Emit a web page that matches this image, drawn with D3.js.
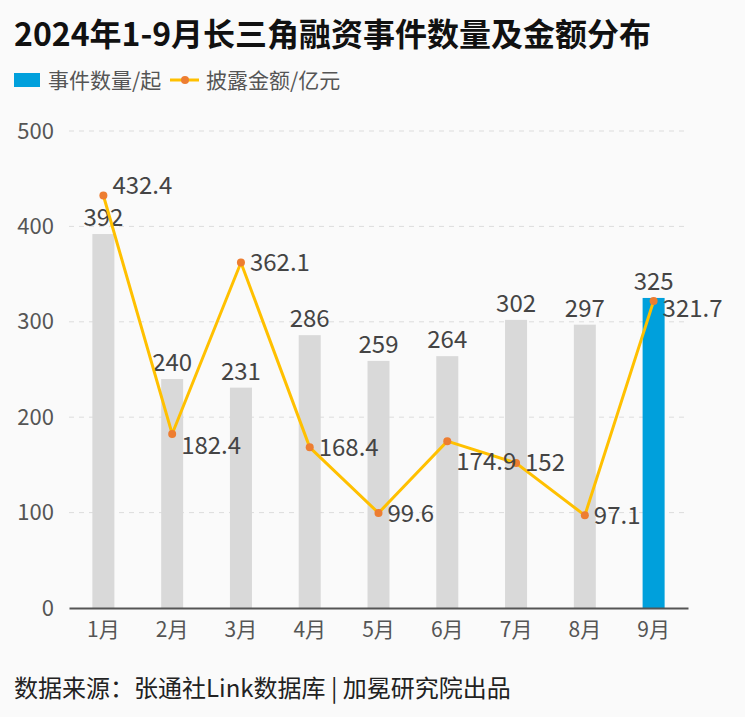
<!DOCTYPE html>
<html><head><meta charset="utf-8">
<script src="https://cdn.jsdelivr.net/npm/d3@7/dist/d3.min.js"></script>
<style>
html,body{margin:0;padding:0;background:#fafafa;}
text{font-family:"Noto Sans CJK SC","Noto Sans",sans-serif;}
</style></head>
<body>
<svg id="c" width="745" height="717"></svg>
<script>
const months = ["1月","2月","3月","4月","5月","6月","7月","8月","9月"];
const eventCounts = [392,240,231,286,259,264,302,297,325];
const amounts = [432.4,182.4,362.1,168.4,99.6,174.9,152,97.1,321.7];
const yTicks = [0,100,200,300,400,500];
const labelDy = [-10,12,0,0,1,20,0,0,8];

const svg = d3.select("#c");
svg.append("rect").attr("width",745).attr("height",717).attr("fill","#fafafa");

const m = {left:69, right:688, top:131, bottom:608};
const x = d3.scaleBand().domain(months).range([m.left,m.right]).paddingInner(0.68).paddingOuter(0.34);
const y = d3.scaleLinear().domain([0,500]).range([m.bottom,m.top]);

// title
svg.append("text").attr("x",14).attr("y",46).attr("font-size",32).attr("font-weight",700).attr("fill","#111")
  .text("2024年1-9月长三角融资事件数量及金额分布");

// legend
svg.append("rect").attr("x",14).attr("y",73).attr("width",26).attr("height",14).attr("fill","#00a0dc");
svg.append("text").attr("x",48).attr("y",88).attr("font-size",21).attr("fill","#555").text("事件数量/起");
svg.append("line").attr("x1",170).attr("x2",199).attr("y1",80).attr("y2",80).attr("stroke","#ffc000").attr("stroke-width",3);
svg.append("circle").attr("cx",185).attr("cy",80).attr("r",4).attr("fill","#ed7d31");
svg.append("text").attr("x",206).attr("y",88).attr("font-size",21).attr("fill","#555").text("披露金额/亿元");

// grid
const yAxis = d3.axisLeft(y).tickValues(yTicks).tickSize(0).tickPadding(15);
const ga = svg.append("g").attr("transform",`translate(${m.left},0)`).call(yAxis);
ga.select(".domain").remove();
ga.selectAll("text").attr("font-size",22).attr("fill","#555").attr("font-family","Noto Sans, sans-serif");
svg.append("g").selectAll("line").data(yTicks.filter(d=>d>0)).join("line")
  .attr("x1",m.left).attr("x2",m.right).attr("y1",d=>y(d)).attr("y2",d=>y(d))
  .attr("stroke","#dcdcdc").attr("stroke-dasharray","5,5").attr("stroke-width",1);

// bars
svg.append("g").selectAll("rect").data(eventCounts).join("rect")
  .attr("x",(d,i)=>x(months[i])).attr("width",x.bandwidth())
  .attr("y",d=>y(d)).attr("height",d=>y(0)-y(d))
  .attr("fill",(d,i)=>i===months.length-1?"#00a0dc":"#d9d9d9");

// x axis
const xa = svg.append("g").attr("transform",`translate(0,${m.bottom})`).call(d3.axisBottom(x).tickSize(0).tickPadding(14));
xa.select(".domain").attr("stroke","#555").attr("stroke-width",2);
xa.selectAll("text").attr("font-size",21).attr("fill","#555");

// bar labels
svg.append("g").selectAll("text").data(eventCounts).join("text")
  .attr("x",(d,i)=>x(months[i])+x.bandwidth()/2).attr("y",d=>y(d)-8)
  .attr("text-anchor","middle").attr("font-size",24).attr("fill","#444")
  .attr("font-family","Noto Sans, sans-serif").text(d=>d);

// line
const cx = (d,i)=>x(months[i])+x.bandwidth()/2;
svg.append("path").datum(amounts)
  .attr("d",d3.line().x(cx).y(d=>y(d)))
  .attr("fill","none").attr("stroke","#ffc000").attr("stroke-width",3);
svg.append("g").selectAll("circle").data(amounts).join("circle")
  .attr("cx",cx).attr("cy",d=>y(d)).attr("r",4).attr("fill","#ed7d31");
svg.append("g").selectAll("text").data(amounts).join("text")
  .attr("x",(d,i)=>cx(d,i)+9).attr("y",(d,i)=>y(d)+labelDy[i]).attr("dy","0.35em")
  .attr("font-size",24).attr("fill","#444").attr("font-family","Noto Sans, sans-serif")
  .text(d=>d);

// footer
svg.append("text").attr("x",14).attr("y",697).attr("font-size",24).attr("fill","#222")
  .text("数据来源：张通社Link数据库 | 加冕研究院出品");
</script>
</body></html>
